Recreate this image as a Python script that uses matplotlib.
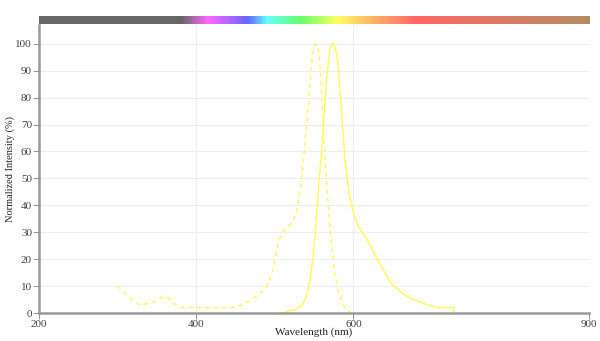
import numpy as np
import matplotlib.pyplot as plt
from matplotlib.colors import LinearSegmentedColormap

# -----------------------------
# Data
# -----------------------------
ex_nm = [300, 310, 320, 328, 338, 345, 352, 358, 365, 372, 380, 400, 420,
         447, 458, 465, 473, 481, 490, 496, 500, 505, 511, 517, 523, 528,
         532, 536, 540, 544, 547, 549, 551, 553, 555, 557, 559, 561, 564,
         567, 570, 573, 576, 579, 583, 587, 591, 595, 598]
ex_val = [10, 7, 4.5, 3, 3.5, 4, 5, 6, 5.5, 3.5, 2, 2, 2,
          2, 3, 4, 5.5, 7, 10, 14, 20, 27, 30.5, 32, 34, 38,
          45, 55, 68, 83, 93, 97.5, 99.7, 100, 98.5, 94, 85, 72, 58,
          44, 32, 23, 16, 10, 6, 3, 1.5, 0.5, 0]

em_nm = [500, 510, 519, 525, 530, 535, 540, 544, 548, 552, 556, 560, 563,
         566, 568, 570, 572, 574, 576, 578, 580, 583, 586, 589, 592, 596,
         600, 605, 611, 618, 625, 632, 640, 648, 656, 664, 672, 682, 695,
         708, 728, 728]
em_val = [0, 0, 1, 1, 2, 3, 6, 11, 19, 32, 48, 62, 75,
          87, 93, 97.5, 99.6, 100, 99.3, 97, 93, 83, 70, 58, 50, 42,
          37, 33, 30, 27, 23, 19, 15, 11, 9, 7, 5.5, 4.5, 3,
          2, 2, 0]

# spectrum bar stops: wavelength -> colour
bar_nm = [200, 380, 414, 465, 490, 532, 580, 630, 681, 900]
bar_col = ["#666666", "#666666", "#ff66ff", "#6666ff", "#66ffff", "#66ff66",
           "#ffff66", "#ffaa66", "#ff6666", "#b48c64"]

x_ticks = [200, 400, 600, 900]
y_ticks = list(range(0, 101, 10))

# -----------------------------
# Figure setup
# -----------------------------
plt.rcParams["font.family"] = ["Liberation Serif", "DejaVu Serif"]
fig = plt.figure(figsize=(6.0, 3.41), dpi=100)
ax = fig.add_axes([0.065, 0.082, 0.917, 0.845])
bar_ax = fig.add_axes([0.065, 0.929, 0.917, 0.024])

line_col = "#ffff55"
ax.plot(ex_nm, ex_val, color=line_col, lw=1.0, ls=(0, (3, 3)))
ax.plot(em_nm, em_val, color=line_col, lw=1.0)

ax.set_xlim(200, 900)
ax.set_ylim(0, 107)
ax.set_xticks(x_ticks)
ax.set_yticks(y_ticks)
ax.grid(True, color="#eeeeee", lw=0.8)
ax.set_axisbelow(True)

for side in ["top", "right"]:
    ax.spines[side].set_visible(False)
for side in ["left", "bottom"]:
    ax.spines[side].set_color("#999999")
    ax.spines[side].set_linewidth(1.8)
ax.tick_params(colors="#444444", labelsize=8, length=4, width=0.8, pad=1)
ax.tick_params(axis="both", color="#999999")

ax.set_xlabel("Wavelength (nm)", fontsize=8, color="#222222", va="center")
ax.xaxis.set_label_coords(0.5, -0.066)
ax.set_ylabel("Normalized Intensity (%)", fontsize=7.5, color="#222222", va="center")
ax.yaxis.set_label_coords(-0.053, 0.5)

# -----------------------------
# Spectrum colour bar
# -----------------------------
pos = [(w - bar_nm[0]) / (bar_nm[-1] - bar_nm[0]) for w in bar_nm]
cmap = LinearSegmentedColormap.from_list("spec", list(zip(pos, bar_col)))
grad = np.linspace(0, 1, 700).reshape(1, -1)
bar_ax.imshow(grad, aspect="auto", cmap=cmap, extent=[200, 900, 0, 1])
bar_ax.set_axis_off()

fig.savefig("out.png", dpi=100)
